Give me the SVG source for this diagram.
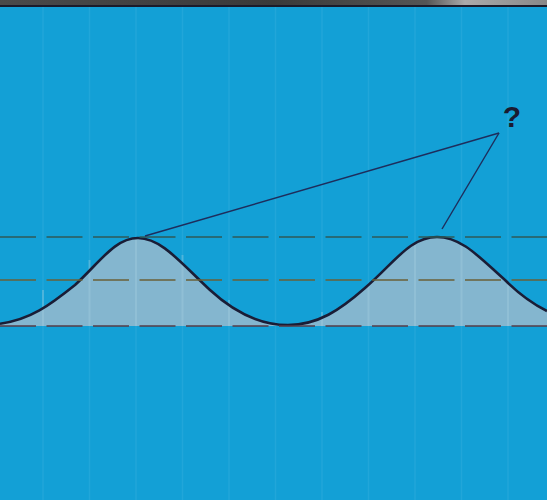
<svg xmlns="http://www.w3.org/2000/svg" width="547" height="500" viewBox="0 0 547 500">
<defs>
<linearGradient id="band" x1="0" y1="0" x2="1" y2="0">
<stop offset="0" stop-color="#4a4a4a"/>
<stop offset="0.5" stop-color="#3a3a3a"/>
<stop offset="0.78" stop-color="#555"/>
<stop offset="0.85" stop-color="#aaa"/>
<stop offset="1" stop-color="#888"/>
</linearGradient>
<style>
.grid{stroke:#6cc8ea;stroke-width:1.5;opacity:0.16}
.gridf{stroke:#a8d2e2;stroke-width:2;opacity:0.35}
.dash{fill:none;stroke-width:1.4;stroke-dasharray:36 10.5}
.ptr{fill:none;stroke:#1e2d5c;stroke-width:1.4}
</style>
</defs>
<rect width="547" height="500" fill="#13a0d6"/>
<rect width="547" height="6" fill="url(#band)"/>
<rect y="5" width="547" height="2" fill="#1b1b2a"/>
<g id="grid">
<path class="grid" d="M43 7V500M89.5 7V500M136 7V500M182.5 7V500M229 7V500M275.5 7V500M322 7V500M368.5 7V500M415 7V500M461.5 7V500M508 7V500"/>
</g>
<g id="wave">
<path d="M0 323.7 C30 320 50 305 75 285 C100 262 115 238 138 238 C161 238 180 262 210 290 C235 313 260 325 288 325 C318 325 340 310 365 288 C395 262 410 237 437 237 C462 237 480 258 505 280 C520 295 535 305 547 311 L547 326 L0 326 Z" fill="#84b6cf"/>
<path class="gridf" d="M43 290V326M89.5 260V326M136 238V326M182.5 255V326M229 300V326M322 312V326M368.5 285V326M415 245V326M461.5 245V326M508 282V326"/>
<path d="M0 323.7 C30 320 50 305 75 285 C100 262 115 238 138 238 C161 238 180 262 210 290 C235 313 260 325 288 325 C318 325 340 310 365 288 C395 262 410 237 437 237 C462 237 480 258 505 280 C520 295 535 305 547 311" fill="none" stroke="#1a1d36" stroke-width="2.6"/>
</g>
<g id="levels">
<line class="dash" x1="0" y1="237" x2="547" y2="237" stroke="#2f5a58"/>
<line class="dash" x1="0" y1="280" x2="547" y2="280" stroke="#6a6038"/>
<line class="dash" x1="0" y1="326" x2="547" y2="326" stroke="#553c48"/>
</g>
<g id="connectors">
<line class="ptr" x1="145" y1="236" x2="499" y2="133"/>
<line class="ptr" x1="442" y1="229" x2="499" y2="133"/>
</g>
<g id="question">
<text x="512" y="127" font-family="Liberation Sans, sans-serif" font-size="30" font-weight="bold" fill="#1a1a30" text-anchor="middle">?</text>
</g>
</svg>
